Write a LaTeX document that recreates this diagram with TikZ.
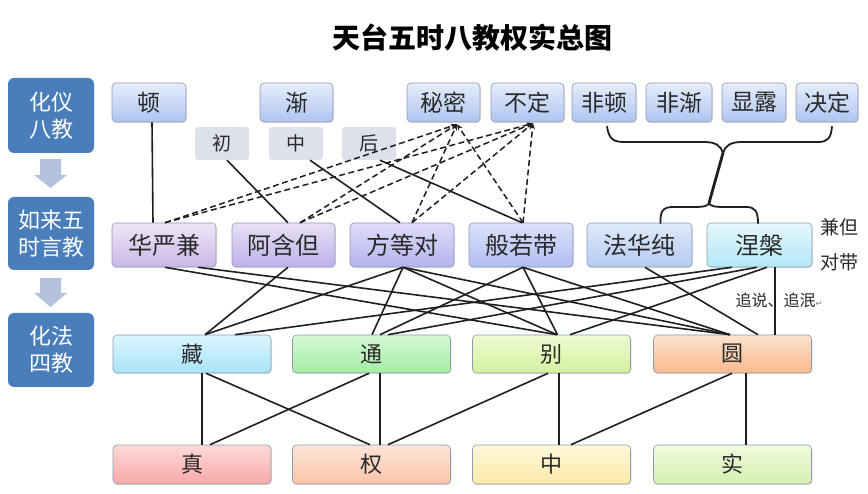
\documentclass[tikz,border=0pt]{standalone}
\usepackage{fontspec}
\setmainfont{Noto Sans CJK SC}
\newfontfamily\symfont{DejaVu Sans}
\usetikzlibrary{calc,arrows.meta,shadows}
\definecolor{leftblue}{HTML}{4A7EBB}
\definecolor{arrowgray}{HTML}{B4C2DC}
\definecolor{bordergray}{HTML}{8E9AB0}
\definecolor{textc}{HTML}{2A2A2A}
\definecolor{subgray}{HTML}{DDE1E9}
\definecolor{rAt}{HTML}{E6EDFB}\definecolor{rAb}{HTML}{AFC4EF}
\definecolor{hyt}{HTML}{EEE6F6}\definecolor{hyb}{HTML}{CAB7E7}
\definecolor{aht}{HTML}{E8E0F6}\definecolor{ahb}{HTML}{BEB0E9}
\definecolor{fdt}{HTML}{DEDCF8}\definecolor{fdb}{HTML}{B5B3EF}
\definecolor{brt}{HTML}{DCE1FA}\definecolor{brb}{HTML}{B1BDF2}
\definecolor{fht}{HTML}{DFE9FA}\definecolor{fhb}{HTML}{B4CBF2}
\definecolor{npt}{HTML}{E5F7FC}\definecolor{npb}{HTML}{B3E8F6}
\definecolor{cgt}{HTML}{DAF4FD}\definecolor{cgb}{HTML}{A9E3F8}
\definecolor{tgt}{HTML}{D5F9D5}\definecolor{tgb}{HTML}{A3EDA3}
\definecolor{bit}{HTML}{F0FAD5}\definecolor{bib}{HTML}{D3F19C}
\definecolor{yut}{HTML}{FDE2CF}\definecolor{yub}{HTML}{F9B98E}
\definecolor{zht}{HTML}{FDD9D9}\definecolor{zhb}{HTML}{F9A8A8}
\definecolor{qut}{HTML}{FDE5D8}\definecolor{qub}{HTML}{F9C4A8}
\definecolor{zot}{HTML}{FEF8DA}\definecolor{zob}{HTML}{FDEAA8}
\definecolor{sht}{HTML}{F0FADE}\definecolor{shb}{HTML}{D5EFB2}
\tikzset{
  leftbox/.style={fill=leftblue, rounded corners=6, minimum width=86, minimum height=75,
    inner sep=0, text=white, align=center, font=\fontsize{22}{27}\selectfont},
  cbox/.style 2 args={draw=bordergray, line width=0.6pt, rounded corners=4, top color=#1, bottom color=#2,
    inner sep=0, text=textc, drop shadow={opacity=0.2, shadow xshift=1pt, shadow yshift=-1.2pt}},
  rowa/.style={cbox={rAt}{rAb}, minimum height=39, font=\fontsize{23}{23}\selectfont},
  rowb/.style={minimum height=44, minimum width=104, font=\fontsize{24}{24}\selectfont},
  rowc/.style={minimum height=38, minimum width=158, font=\fontsize{22}{22}\selectfont},
  rowd/.style={minimum height=39, minimum width=158, font=\fontsize{22}{22}\selectfont},
  subbox/.style={fill=subgray, rounded corners=3, minimum width=54, minimum height=33, inner sep=0,
    text=textc, font=\fontsize{19}{19}\selectfont},
  conn/.style={line width=1.6pt, draw=black!88},
  dconn/.style={line width=1.5pt, draw=black!88, dash pattern=on 6pt off 3.5pt,
    -{Stealth[length=6pt,width=5pt]}},
  brace/.style={line width=1.8pt, draw=black!88},
  note/.style={text=textc, inner sep=0}
}
\begin{document}
\begin{tikzpicture}[x=1pt,y=-1pt]
\useasboundingbox (0,0) rectangle (868,494);
\fill[white] (0,0) rectangle (868,494);
% title
\node[font=\bfseries\fontsize{28}{28}\selectfont, inner sep=0] (title) at (472,38) {天台五时八教权实总图};
% left column
\node[leftbox] (L1) at (51,115.5) {化仪\\八教};
\node[leftbox, minimum height=73] (L2) at (51,233.5) {如来五\\时言教};
\node[leftbox, minimum height=74] (L3) at (51,350) {化法\\四教};
\fill[arrowgray] (40,159) -- (61,159) -- (61,175) -- (67,175) -- (50.5,188) -- (34,175) -- (40,175) -- cycle;
\fill[arrowgray] (40,278) -- (61,278) -- (61,293) -- (67,293) -- (50.5,307) -- (34,293) -- (40,293) -- cycle;
% row 1
\node[rowa, minimum width=74] (dun) at (149,102.5) {顿};
\node[rowa, minimum width=73] (jian) at (296.5,102.5) {渐};
\node[rowa, minimum width=73] (mimi) at (443.5,102.5) {秘密};
\node[rowa, minimum width=73] (buding) at (527.5,102.5) {不定};
\node[rowa, minimum width=64] (feidun) at (604,102.5) {非顿};
\node[rowa, minimum width=66] (feijian) at (679,102.5) {非渐};
\node[rowa, minimum width=64] (xianlu) at (754,102.5) {显露};
\node[rowa, minimum width=62] (jueding) at (827,102.5) {决定};
% sub boxes
\node[subbox] (chu) at (222,143.5) {初};
\node[subbox] (zhong) at (296,143.5) {中};
\node[subbox] (hou) at (369,143.5) {后};
% row 2
\node[cbox={hyt}{hyb}, rowb] (huayan) at (164,245) {华严兼};
\node[cbox={aht}{ahb}, rowb, minimum width=103] (ahan) at (283.5,245) {阿含但};
\node[cbox={fdt}{fdb}, rowb] (fangdeng) at (402,245) {方等对};
\node[cbox={brt}{brb}, rowb] (bore) at (521,245) {般若带};
\node[cbox={fht}{fhb}, rowb, minimum width=105] (fahua) at (639.5,245) {法华纯};
\node[cbox={npt}{npb}, rowb, minimum width=105] (niepan) at (759.5,245) {涅槃};
% row 3
\node[cbox={cgt}{cgb}, rowc] (cang) at (192,354) {藏};
\node[cbox={tgt}{tgb}, rowc] (tong) at (371.5,354) {通};
\node[cbox={bit}{bib}, rowc] (bie) at (551.5,354) {别};
\node[cbox={yut}{yub}, rowc] (yuan) at (732.5,354) {圆};
% row 4
\node[cbox={zht}{zhb}, rowd] (zhen) at (192,464.5) {真};
\node[cbox={qut}{qub}, rowd] (quan) at (371.5,464.5) {权};
\node[cbox={zot}{zob}, rowd] (zhong4) at (551.5,464.5) {中};
\node[cbox={sht}{shb}, rowd] (shi) at (732.5,464.5) {实};
% notes
\node[note, font=\fontsize{19}{19}\selectfont] (jd) at (839,227) {兼但};
\node[note, font=\fontsize{19}{19}\selectfont] (dd) at (839,262) {对带};
\node[note, font=\fontsize{16}{16}\selectfont] (zs) at (779,300) {追说、追泯{\symfont\color{gray}\fontsize{8}{8}\selectfont ↵}};
% row1 -> row2 solid
\draw[conn] ([xshift=3]dun.south) -- ([xshift=-11]huayan.north);
\draw[conn] ([xshift=5]chu.south) -- ([xshift=4.5]ahan.north);
\draw[conn] ([xshift=14]zhong.south) -- ([xshift=-2]fangdeng.north);
\draw[conn] ([xshift=11]hou.south) -- ([xshift=1]bore.north);
% dashed
\foreach \s/\d in {huayan/1, ahan/16.5, fangdeng/10, bore/2}{
  \draw[dconn] ([xshift=\d]\s.north) -- ([xshift=13.5,yshift=-2]mimi.south);
  \draw[dconn] ([xshift=\d]\s.north) -- ([xshift=5.5,yshift=-1]buding.south);
}
% braces
\coordinate (b1) at ([xshift=3,yshift=-4]feidun.south);
\coordinate (b2) at ([xshift=5,yshift=-4]jueding.south);
\coordinate (bt) at (723,153);
\coordinate (bb) at (709,203);
\draw[brace] (b1) .. controls (609,140) and (614,142) .. (625,142) -- (704,142)
  .. controls (716,142) and (721,146) .. (bt)
  .. controls (725,146) and (730,142) .. (742,142) -- (818,142)
  .. controls (828,142) and (831,138) .. (b2);
\draw[line width=2.8pt, draw=black!88] (bt) -- (bb);
\draw[brace] ([xshift=21,yshift=-1]fahua.north) .. controls (660,211) and (663,207) .. (673,207) -- (694,207)
  .. controls (704,207) and (708,206) .. (bb)
  .. controls (710,206) and (714,207) .. (724,207) -- (746,207)
  .. controls (755,207) and (758,211) .. ([xshift=-1.5,yshift=-1]niepan.north);
% row2 -> row3
\draw[conn] ([xshift=1]huayan.south) -- ([xshift=5.5]bie.north);
\draw[conn] ([xshift=34]huayan.south) -- ([xshift=-2.5]yuan.north);
\draw[conn] ([xshift=4.5]ahan.south) -- ([xshift=13]cang.north);
\draw[conn] ([xshift=1]fangdeng.south) -- ([xshift=13]cang.north);
\draw[conn] ([xshift=1]fangdeng.south) -- ([xshift=0.5]tong.north);
\draw[conn] ([xshift=1]fangdeng.south) -- ([xshift=5.5]bie.north);
\draw[conn] ([xshift=1]fangdeng.south) -- ([xshift=-2.5]yuan.north);
\draw[conn] ([xshift=2]bore.south) -- ([xshift=8.5]tong.north);
\draw[conn] ([xshift=2]bore.south) -- ([xshift=6]bie.north);
\draw[conn] ([xshift=2]bore.south) -- ([xshift=-2.5]yuan.north);
\draw[conn] ([xshift=5.5]fahua.south) -- ([xshift=25.5]yuan.north);
\draw[conn] ([xshift=-27.5]niepan.south) -- ([xshift=43]cang.north);
\draw[conn] ([xshift=-2.5]niepan.south) -- ([xshift=16.5]tong.north);
\draw[conn] ([xshift=7.5]niepan.south) -- ([xshift=18.5]bie.north);
\draw[conn] ([xshift=15.5]niepan.south) -- ([xshift=42.5]yuan.north);
% row3 -> row4
\draw[conn] ([xshift=10]cang.south) -- ([xshift=10]zhen.north);
\draw[conn] ([xshift=14]cang.south) -- ([xshift=-1.5]quan.north);
\draw[conn] ([xshift=-2.5]tong.south) -- ([xshift=18]zhen.north);
\draw[conn] ([xshift=8.5]tong.south) -- ([xshift=8.5]quan.north);
\draw[conn] ([xshift=-3.5]bie.south) -- ([xshift=16.5]quan.north);
\draw[conn] ([xshift=7.5]bie.south) -- ([xshift=7.5]zhong4.north);
\draw[conn] ([xshift=-0.5]yuan.south) -- ([xshift=19.5]zhong4.north);
\draw[conn] ([xshift=13.5]yuan.south) -- ([xshift=13.5]shi.north);
\end{tikzpicture}
\end{document}
